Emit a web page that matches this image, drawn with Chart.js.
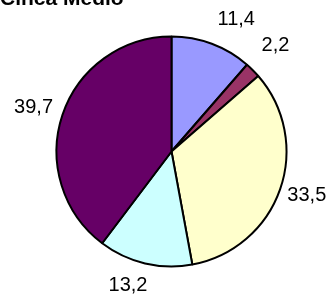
<!DOCTYPE html>
<html>
<head>
<meta charset="utf-8">
<script src="https://cdn.jsdelivr.net/npm/chart.js@4/dist/chart.umd.min.js"></script>
<style>
  html, body { margin: 0; padding: 0; background: #ffffff; overflow: hidden; }
  #wrap { position: absolute; left: 0; top: 0; width: 331px; height: 298px; }
  #title { position: absolute; left: 0; top: -13px; font: bold 21px Arial, "Liberation Sans", sans-serif; line-height: 21px; color: #000; white-space: nowrap; z-index: 2; }
</style>
</head>
<body>
<div id="wrap">
  <div id="title">Cinca Medio</div>
  <canvas id="c" width="331" height="298"></canvas>
</div>
<script>
const categories = ["A", "B", "C", "D", "E"];
const values = [11.4, 2.2, 33.5, 13.2, 39.7];
const sliceColors = ["#9999FF", "#993366", "#FFFFCC", "#CCFFFF", "#660066"];
// small label nudges (px) to mimic the reference's label placement
const labelNudge = [[14, -3], [5, -9], [-2, -1.5], [-10, 0], [0, 0]];

const outsideLabels = {
  id: 'outsideLabels',
  afterDatasetsDraw(chart) {
    const ctx = chart.ctx;
    const meta = chart.getDatasetMeta(0);
    ctx.save();
    ctx.font = '20px Arial, "Liberation Sans", sans-serif';
    ctx.fillStyle = '#000';
    ctx.textAlign = 'center';
    ctx.textBaseline = 'middle';
    meta.data.forEach((arc, i) => {
      const p = arc.getProps(['x', 'y', 'startAngle', 'endAngle', 'outerRadius'], true);
      const mid = (p.startAngle + p.endAngle) / 2;
      const ux = Math.cos(mid), uy = Math.sin(mid);
      const txt = values[i].toFixed(1).replace('.', ',');
      const w = ctx.measureText(txt).width;
      const h = 23;
      const d = p.outerRadius + 11;
      const x = p.x + d * ux + (w / 2) * ux + labelNudge[i][0];
      const y = p.y + d * uy + (h / 2) * uy + labelNudge[i][1];
      ctx.fillText(txt, x, y);
    });
    ctx.restore();
  }
};

new Chart(document.getElementById('c'), {
  type: 'pie',
  data: {
    labels: categories,
    datasets: [{
      data: values,
      backgroundColor: sliceColors,
      borderColor: '#000000',
      borderWidth: 2
    }]
  },
  options: {
    responsive: false,
    animation: false,
    layout: { padding: { left: 55.5, right: 43.5, top: 35.5, bottom: 30.5 } },
    plugins: {
      legend: { display: false },
      tooltip: { enabled: false },
      title: { display: false }
    }
  },
  plugins: [outsideLabels]
});
</script>
</body>
</html>
